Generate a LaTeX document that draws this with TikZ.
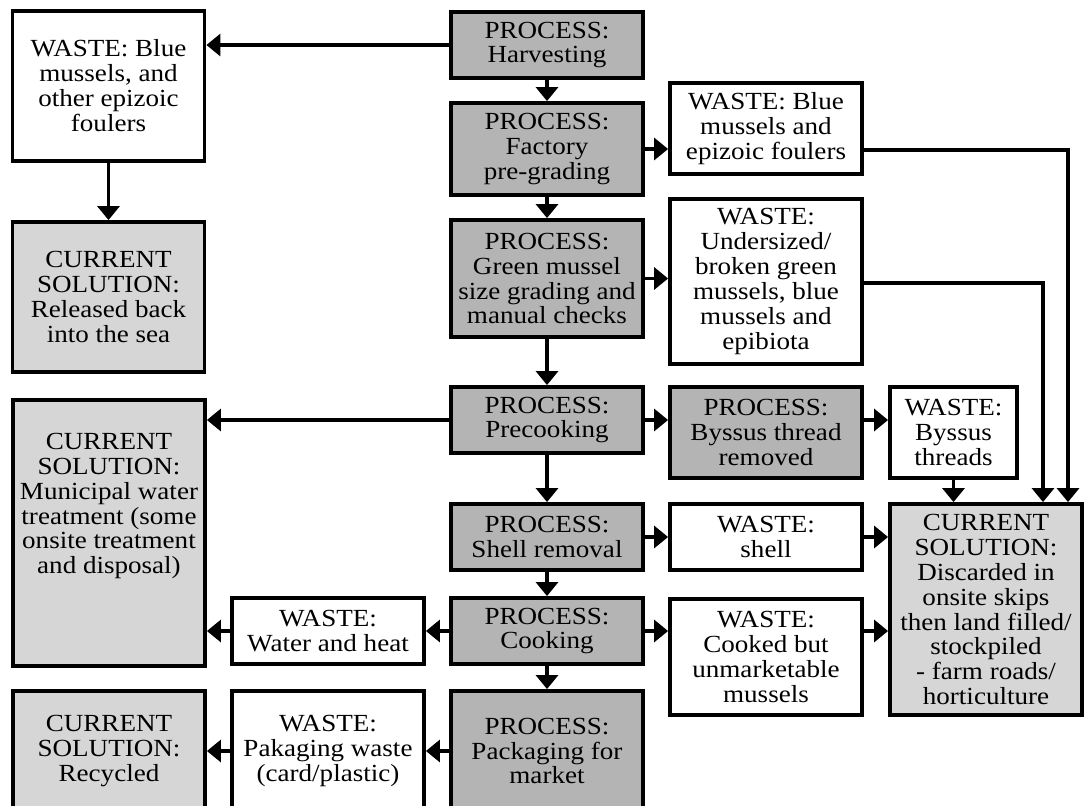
\documentclass[tikz,border=0pt]{standalone}
\usepackage{fontspec}
\setmainfont{Liberation Serif}[FakeStretch=1.1]
\usepackage{tikz}
\usetikzlibrary{arrows.meta, positioning}
\definecolor{procgray}{RGB}{180,180,180}
\definecolor{solgray}{RGB}{214,214,214}

\begin{document}
\begin{tikzpicture}[x=0.02cm, y=-0.02cm,
        box/.style={draw, line width=2.2pt, align=center, minimum width=3.84cm,
            inner sep=2pt, font=\fontsize{14}{14.2}\selectfont},
        procbox/.style={box, fill=procgray},
        wastebox/.style={box, fill=white},
        solbox/.style={box, fill=solgray},
        flow/.style={line width=1.8pt, -{Triangle[length=0.28cm, width=0.44cm]}}]

        \useasboundingbox (0,0) rectangle (1085,805);

        % Main process column
        \node[procbox, minimum height=1.32cm] (harv) at (547,45) {PROCESS:\\Harvesting};
        \node[procbox, minimum height=1.84cm] (fact) at (547,149) {PROCESS:\\Factory\\pre-grading};
        \node[procbox, minimum height=2.34cm] (green) at (547,278.5) {PROCESS:\\Green mussel\\size grading and\\manual checks};
        \node[procbox, minimum height=1.32cm] (pre) at (547,420) {PROCESS:\\Precooking};
        \node[procbox, minimum height=1.32cm] (shell) at (547,537) {PROCESS:\\Shell removal};
        \node[procbox, minimum height=1.32cm] (cook) at (547,631) {PROCESS:\\Cooking};
        \node[procbox, minimum height=2.4cm] (pack) at (547,751) {PROCESS:\\Packaging for\\market};

        % Side process
        \node[procbox, minimum height=1.82cm] (byss) at (766,432.5) {PROCESS:\\Byssus thread\\removed};

        % Waste boxes
        \node[wastebox, minimum height=3cm] (wblue) at (108.5,86) {WASTE: Blue\\mussels, and\\other epizoic\\foulers};
        \node[wastebox, minimum height=1.82cm] (wfoul) at (766,128.5) {WASTE: Blue\\mussels and\\epizoic foulers};
        \node[wastebox, minimum height=3.3cm] (wsize) at (766,281.5) {WASTE:\\Undersized/\\broken green\\mussels, blue\\mussels and\\epibiota};
        \node[wastebox, minimum height=1.82cm, minimum width=2.54cm] (wbys) at (953.5,432.5) {WASTE:\\Byssus\\threads};
        \node[wastebox, minimum height=1.32cm] (wshell) at (766,537) {WASTE:\\shell};
        \node[wastebox, minimum height=2.32cm] (wcook) at (766,657) {WASTE:\\Cooked but\\unmarketable\\mussels};
        \node[wastebox, minimum height=1.32cm] (wwater) at (328,631) {WASTE:\\Water and heat};
        \node[wastebox, minimum height=2.4cm] (wpack) at (328,751) {WASTE:\\Pakaging waste\\(card/plastic)};

        % Current solutions
        \node[solbox, minimum height=3cm] (sea) at (108.5,297) {CURRENT\\SOLUTION:\\Released back\\into the sea};
        \node[solbox, minimum height=5.32cm] (muni) at (109,533) {};
        \node[box, draw=none] (munitxt) at (109,506) {CURRENT\\SOLUTION:\\Municipal water\\treatment (some\\onsite treatment\\and disposal)};
        \node[solbox, minimum height=4.22cm] (skip) at (986,609.5) {CURRENT\\SOLUTION:\\Discarded in\\onsite skips\\then land filled/\\stockpiled\\- farm roads/\\horticulture};
        \node[solbox, minimum height=2.4cm] (recyc) at (109,751) {CURRENT\\SOLUTION:\\Recycled};

        % Down the process column
        \draw[flow] (harv) -- (fact);
        \draw[flow] (fact) -- (green);
        \draw[flow] (green) -- (pre);
        \draw[flow] (pre) -- (shell);
        \draw[flow] (shell) -- (cook);
        \draw[flow] (cook) -- (pack);

        % Left branches
        \draw[flow] (harv.west) -- (harv.west -| wblue.east);
        \draw[flow] (wblue) -- (sea);
        \draw[flow] (pre.west) -- (pre.west -| muni.east);
        \draw[flow] (cook.west) -- (wwater.east);
        \draw[flow] (wwater.west) -- (wwater.west -| muni.east);
        \draw[flow] (pack.west) -- (wpack.east);
        \draw[flow] (wpack.west) -- (recyc.east);

        % Right branches
        \draw[flow] (fact.east) -- (fact.east -| wfoul.west);
        \draw[flow] (green.east) -- (green.east -| wsize.west);
        \draw[flow] (pre.east) -- (pre.east -| byss.west);
        \draw[flow] (byss.east |- pre.east) -- (wbys.west |- pre.east);
        \draw[flow] (wbys) -- (wbys |- skip.north);
        \draw[flow] (shell) -- (wshell);
        \draw[flow] (wshell) -- (wshell -| skip.west);
        \draw[flow] (cook.east) -- (cook.east -| wcook.west);
        \draw[flow] (wcook.east |- cook.east) -- (skip.west |- cook.east);

        % Long rails into the skip box
        \coordinate (railA) at (1068,150);
        \coordinate (railB) at (1043,283);
        \draw[flow] (wfoul.east |- railA) -- (railA) -- (railA |- skip.north);
        \draw[flow] (wsize.east |- railB) -- (railB) -- (railB |- skip.north);

\end{tikzpicture}
\end{document}
